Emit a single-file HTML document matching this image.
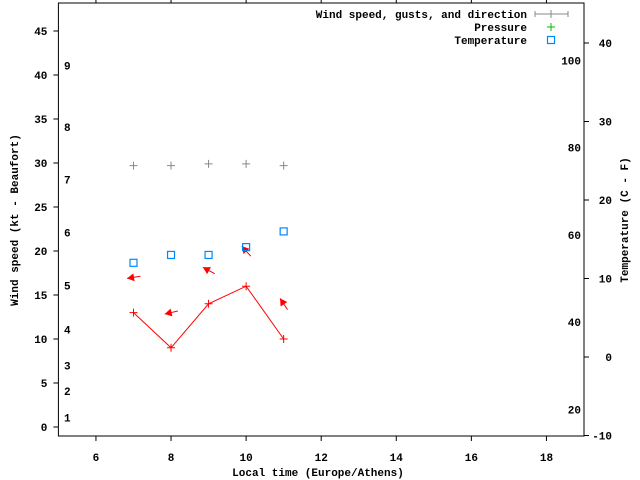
<!DOCTYPE html>
<html><head><meta charset="utf-8"><style>
html,body{margin:0;padding:0;background:#fff;}
svg{display:block;font-family:"Liberation Mono",monospace;font-size:11px;font-weight:bold;}
</style></head><body>
<svg id="chart" width="640" height="480" viewBox="0 0 640 480" xmlns="http://www.w3.org/2000/svg"></svg>
<script>
const hours = [7, 8, 9, 10, 11];
const windKt = [13, 9, 14, 16, 10];
const gustKt = [17, 13, 17.8, 20, 14];
const windDirDeg = [171, 167, 208, 228, 236];
const pressure = [29.7, 29.7, 29.9, 29.9, 29.7];
const tempC = [12, 13, 13, 14, 16];
const xTicks = [6, 8, 10, 12, 14, 16, 18];
const yTicks = [0, 5, 10, 15, 20, 25, 30, 35, 40, 45];
const cTicks = [-10, 0, 10, 20, 30, 40];
const fTicks = [20, 40, 60, 80, 100];
const beaufortLabels = [1, 2, 3, 4, 5, 6, 7, 8, 9];
const beaufortKt = [1.1, 4.1, 7.0, 11.1, 16.1, 22.1, 28.1, 34.1, 41.1];

const L=58.4,R=584,T=3,B=436;
const sx=v=>L+(v-5)*(R-L)/14;
const sy=v=>427-v*8.8;
const sc=v=>357-v*7.85;
const sf=f=>sc((f-32)*5/9);
const svg=document.getElementById('chart');
const NS='http://www.w3.org/2000/svg';
function mk(tag,attrs,parent){const e=document.createElementNS(NS,tag);for(const k in attrs)e.setAttribute(k,attrs[k]);(parent||svg).appendChild(e);return e;}

const frame=mk('rect',{x:L,y:T,width:R-L,height:B-T,fill:'none',stroke:'#000','stroke-width':1});



xTicks.forEach(v=>{
  const t=mk('line',{x1:sx(v),x2:sx(v),y1:B,y2:B+5,stroke:'#000'});
  
  
  const t2=mk('line',{x1:sx(v),x2:sx(v),y1:T,y2:T-4,stroke:'#000'});
  
  
  const l=mk('text',{x:sx(v),y:B+25,'text-anchor':'middle'});l.textContent=v;
  
  
});
yTicks.forEach(v=>{
  const t=mk('line',{x1:L-5,x2:L,y1:sy(v),y2:sy(v),stroke:'#000'});
  
  
  const l=mk('text',{x:L-11,y:sy(v)+4,'text-anchor':'end'});l.textContent=v;
  
  
});
cTicks.forEach(v=>{
  const t=mk('line',{x1:R,x2:R+5,y1:sc(v),y2:sc(v),stroke:'#000'});
  
  
  const l=mk('text',{x:R+28,y:sc(v)+4,'text-anchor':'end'});l.textContent=v;
  
  
});
fTicks.forEach(v=>{
  const l=mk('text',{x:R-3,y:sf(v)+4,'text-anchor':'end'});l.textContent=v;
  
  
});
beaufortLabels.forEach((b,i)=>{
  const l=mk('text',{x:64,y:sy(beaufortKt[i])+4});l.textContent=b;
  
  
});

// wind line
const wl=mk('polyline',{points:hours.map((h,i)=>sx(h)+','+sy(windKt[i])).join(' '),fill:'none',stroke:'#f00','stroke-width':1});


hours.forEach((h,i)=>{
  const x=sx(h),y=sy(windKt[i]);
  const p=mk('path',{d:`M${x-4},${y}H${x+4}M${x},${y-4}V${y+4}`,stroke:'#f00'});
  
  
  // direction arrow at gust
  const gx=x,gy=sy(gustKt[i]),a=windDirDeg[i]*Math.PI/180,c=Math.cos(a),s=Math.sin(a);
  const hx=gx+6.5*c,hy=gy+6.5*s,tx=gx-7*c,ty=gy-7*s;
  const g=mk('g',{});
  
  
  mk('line',{x1:tx,y1:ty,x2:hx,y2:hy,stroke:'#f00'},g);
  const px=-s,py=c;
  mk('polygon',{points:`${hx},${hy} ${hx-7*c+4*px},${hy-7*s+4*py} ${hx-7*c-4*px},${hy-7*s-4*py}`,fill:'#f00'},g);
});
hours.forEach((h,i)=>{
  const x=sx(h),y=sy(pressure[i]);
  const p=mk('path',{d:`M${x-4},${y}H${x+4}M${x},${y-4}V${y+4}`,stroke:'#888'});
  
  
});
hours.forEach((h,i)=>{
  const x=sx(h),y=sc(tempC[i]);
  const r=mk('rect',{x:x-3.5,y:y-3.5,width:7,height:7,fill:'none',stroke:'#08f','stroke-width':1.2});
  
  
});

// legend
const leg=[['Wind speed, gusts, and direction',14,'wind'],['Pressure',27,'pressure'],['Temperature',40,'temp']];
leg.forEach(([txt,y,k])=>{
  const g=mk('g',{});
  
  
  const t=mk('text',{x:527,y:y+4,'text-anchor':'end'},g);t.textContent=txt;
  if(k==='wind'){mk('path',{d:`M535,${y}H568M535,${y-3}V${y+3}M568,${y-3}V${y+3}M551,${y-4}V${y+4}`,stroke:'#888'},g);}
  if(k==='pressure'){mk('path',{d:`M547,${y}H555M551,${y-4}V${y+4}`,stroke:'#0b0'},g);}
  if(k==='temp'){mk('rect',{x:547.5,y:y-3.5,width:7,height:7,fill:'none',stroke:'#08f','stroke-width':1.2},g);}
});

const xt=mk('text',{x:318,y:476,'text-anchor':'middle'});xt.textContent='Local time (Europe/Athens)';


const yt=mk('text',{x:0,y:0,'text-anchor':'middle',transform:'translate(18,220) rotate(-90)'});yt.textContent='Wind speed (kt - Beaufort)';


const y2=mk('text',{x:0,y:0,'text-anchor':'middle',transform:'translate(628,220) rotate(-90)'});y2.textContent='Temperature (C - F)';


</script>
</body></html>
